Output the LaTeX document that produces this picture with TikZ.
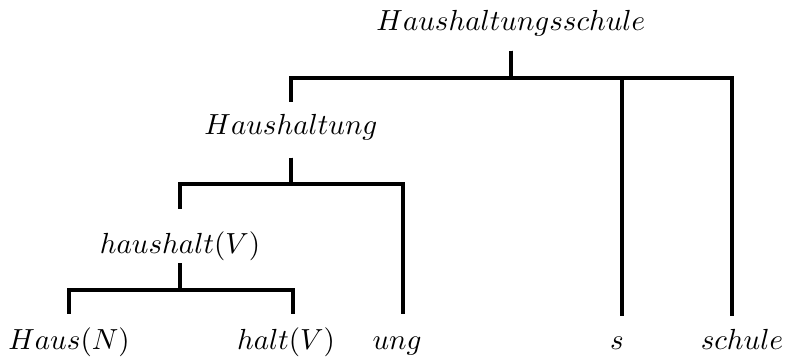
\documentclass[tikz,border=0pt]{standalone}
\tikzset{
  word/.style={inner sep=0pt, anchor=base, text height=6.9pt, text depth=2.5pt},
  branch/.style={line width=1.4pt},
}
\begin{document}
\begin{tikzpicture}[x=0.344pt, y=-0.344pt]
		%%%%% START %%%%%
		\useasboundingbox (0, 0) rectangle (790, 357);
		
		\node[word] (root) at (511, 30) {$Haushaltungsschule$};
		\node[word] (hh) at (291, 134) {$Haushaltung$};
		\node[word] (hv) at (180, 253) {$haushalt(V)$};
		
		\node[word] (haus) at (69, 349) {$Haus(N)$};
		\node[word] (halt) at (286, 349) {$halt(V)$};
		\node[word] (ung) at (397, 349) {$ung$};
		\node[word] (s) at (617, 349) {$s$};
		\node[word] (schule) at (742, 349) {$schule$};
		
		\coordinate (bar1) at (0, 78);
		\coordinate (bar2) at (0, 184);
		\coordinate (bar3) at (0, 290);
		
		\draw[branch, shorten <=4.4pt, shorten >=3.8pt] (root.south) -- (root.south |- bar1) -| (hh.north);
		\draw[branch, shorten <=4.4pt, shorten >=4.1pt] (root.south) -- (root.south |- bar1) -| ([xshift=1.7pt]s.north);
		\draw[branch, shorten <=4.4pt, shorten >=4.1pt] (root.south) -- (root.south |- bar1) -| ([xshift=-3.4pt]schule.north);
		
		\draw[branch, shorten <=5.4pt, shorten >=7.9pt] (hh.south) -- (hh.south |- bar2) -| (hv.north);
		\draw[branch, shorten <=5.4pt, shorten >=4.8pt] (hh.south) -- (hh.south |- bar2) -| ([xshift=2.1pt]ung.north);
		
		\draw[branch, shorten <=0.9pt, shorten >=4.8pt] (hv.south) -- (hv.south |- bar3) -| (haus.north);
		\draw[branch, shorten <=0.9pt, shorten >=4.8pt] (hv.south) -- (hv.south |- bar3) -| ([xshift=2.4pt]halt.north);
		
		%%%%% END %%%%%
\end{tikzpicture}
\end{document}
